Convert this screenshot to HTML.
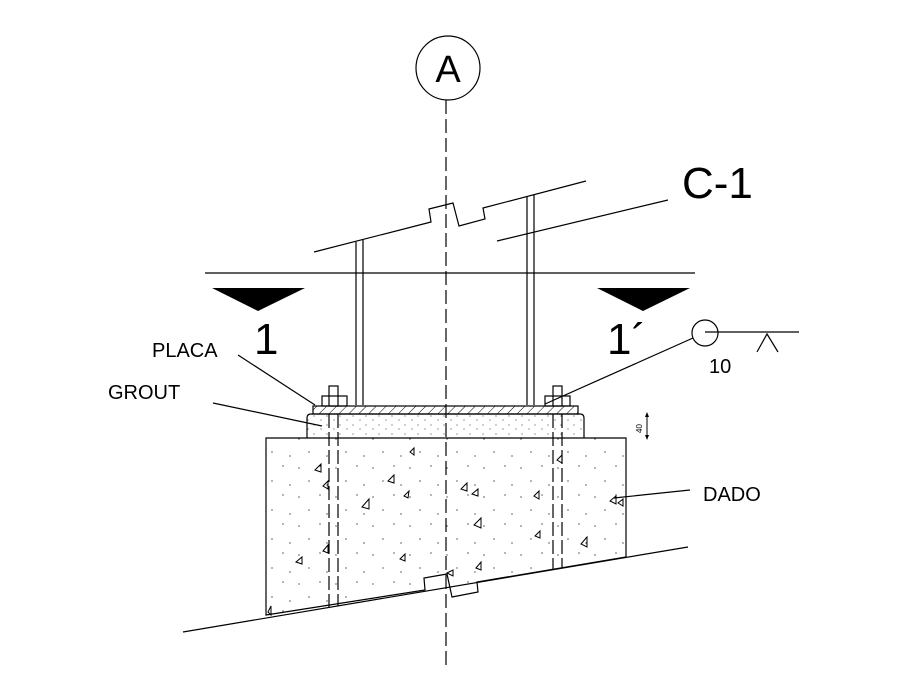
<!DOCTYPE html>
<html><head><meta charset="utf-8"><style>body{margin:0;background:#fff}svg{display:block}text{font-family:"Liberation Sans",Arial,sans-serif;fill:#000}</style></head><body>
<svg width="900" height="697" viewBox="0 0 900 697" xmlns="http://www.w3.org/2000/svg">
<defs>
<pattern id="hatch" width="7" height="7" patternUnits="userSpaceOnUse" patternTransform="rotate(45)"><line x1="0" y1="0" x2="0" y2="7" stroke="#000" stroke-width="1"/></pattern>
<pattern id="dots" width="37" height="29" patternUnits="userSpaceOnUse"><circle cx="3" cy="4" r=".6"/><circle cx="24" cy="2" r=".6"/><circle cx="13" cy="17" r=".6"/><circle cx="31" cy="21" r=".6"/></pattern>
<pattern id="dots2" width="13" height="9" patternUnits="userSpaceOnUse"><circle cx="2" cy="2" r=".5"/><circle cx="9" cy="6" r=".5"/></pattern>
</defs>
<g fill="none" stroke="#000" stroke-width="1.2">
<circle cx="448" cy="68" r="32"/>
<line x1="446" y1="100" x2="446" y2="665" stroke-dasharray="14,5"/>
<line x1="205" y1="273" x2="695" y2="273"/>
<polyline points="314,252 431,222 429,209 453,203 459,226 485,219 483,208 586,181"/>
<line x1="497" y1="241" x2="668" y2="200"/>
<line x1="356" y1="242" x2="356" y2="405"/><line x1="363" y1="240" x2="363" y2="405"/>
<line x1="527" y1="197" x2="527" y2="405"/><line x1="534" y1="195" x2="534" y2="405"/>
<rect x="313" y="406" width="265" height="8" fill="url(#hatch)"/>
<path d="M307,438 V418 Q307,414 311,414 H580 Q584,414 584,418 V438" fill="url(#dots2)"/>
<path d="M266,438 H626 V557 L477,582 L478,592 L452,597 L447,574 L424,578 L425,590 L266,615 Z" fill="url(#dots)"/>
<line x1="183" y1="632" x2="688" y2="547"/>
<rect x="329" y="386" width="9" height="20" fill="#fff"/>
<rect x="322" y="396" width="25" height="10" fill="none"/>
<line x1="329" y1="414" x2="329" y2="607" stroke-dasharray="14,4"/><line x1="338" y1="414" x2="338" y2="606" stroke-dasharray="14,4"/>
<rect x="553" y="386" width="9" height="20" fill="#fff"/>
<rect x="545" y="396" width="25" height="10" fill="none"/>
<line x1="553" y1="414" x2="553" y2="570" stroke-dasharray="14,4"/><line x1="562" y1="414" x2="562" y2="568" stroke-dasharray="14,4"/>
<line x1="238" y1="355" x2="315" y2="405"/>
<line x1="213" y1="403" x2="322" y2="426"/>
<line x1="693" y1="338" x2="545" y2="404"/>
<line x1="690" y1="490" x2="614" y2="498"/>
<circle cx="705" cy="333" r="13"/>
<line x1="705" y1="332" x2="799" y2="332"/>
<polyline points="757,352 767,334 778,352"/>
<line x1="647" y1="416" x2="647" y2="436" stroke-width="1"/>
<g stroke-width="1">
<path d="M315,470 l6,-6 v8z M323,486 l5,-5 v8z M362,507 l7,-8 v10z M404,496 l5,-5 -1,7z M388,481 l6,-6 v8z M400,559 l5,-5 v7z M323,551 l5,-6 v8z M296,562 l6,-5 v7z M410,452 l4,-4 v7z M461,489 l6,-6 v8z M472,494 l6,-5 v7z M474,525 l7,-7 v10z M534,496 l5,-5 v8z M535,536 l5,-5 v7z M476,568 l5,-6 v8z M557,460 l5,-5 v8z M581,544 l6,-7 v10z M610,501 l6,-5 v8z M618,503 l5,-4 v7z M447,573 l6,-3 v6z M268,612 l3,-6 v9z"/>
</g>
</g>
<polygon points="212,288 305,288 258,311" fill="#000"/>
<polygon points="597,288 690,288 643,311" fill="#000"/>
<polygon points="647,412 645,417 649,417" fill="#000"/><polygon points="647,440 645,435 649,435" fill="#000"/>
<text x="448" y="82" font-size="38" text-anchor="middle">A</text>
<text x="682" y="198" font-size="44">C-1</text>
<text x="254" y="354" font-size="44">1</text>
<text x="607" y="354" font-size="44">1´</text>
<text x="152" y="357" font-size="20">PLACA</text>
<text x="108" y="399" font-size="20">GROUT</text>
<text x="703" y="501" font-size="20">DADO</text>
<text x="709" y="373" font-size="20">10</text>
<text x="0" y="0" font-size="8" transform="translate(642,433) rotate(-90)">40</text>
</svg>
</body></html>
